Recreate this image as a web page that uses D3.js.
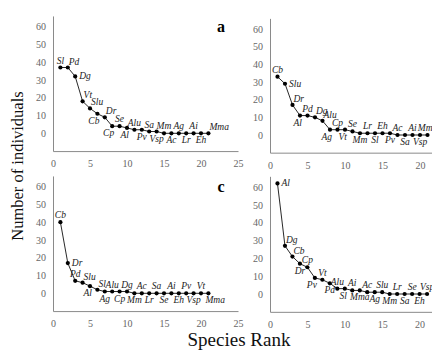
<!DOCTYPE html>
<html>
<head>
<meta charset="utf-8">
<script src="https://cdn.jsdelivr.net/npm/d3@7"></script>
<style>
  body { margin: 0; background: #fff; }
  svg text { font-family: "Liberation Serif", "Times New Roman", serif; }
</style>
</head>
<body>
<svg id="chart" width="432" height="358"></svg>
<script>
const width = 432;
const height = 358;

const ranks = d3.range(1, 22);
const xTicks = [0, 5, 10, 15, 20, 25];
const yTicks = [0, 10, 20, 30, 40, 50, 60];

// panel a
const valuesA = [37, 37, 32, 18, 14, 11, 9, 4, 4, 3, 2, 2, 1, 1, 0, 0, 0, 0, 0, 0, 0];
const speciesA = ["Sl", "Pd", "Dg", "Vt", "Slu", "Cb", "Dr", "Cp", "Se", "Al", "Alu", "Pv", "Sa", "Vsp", "Mm", "Ac", "Ag", "Lr", "Ai", "Eh", "Mma"];
// panel b
const valuesB = [33, 29, 17, 11, 11, 10, 8, 3, 3, 3, 2, 1, 1, 1, 1, 1, 0, 0, 0, 0, 0];
const speciesB = ["Cb", "Slu", "Dr", "Al", "Pd", "Dg", "Alu", "Ag", "Cp", "Vt", "Se", "Mm", "Lr", "Sl", "Eh", "Pv", "Ac", "Sa", "Ai", "Vsp", "Mma"];
// panel c
const valuesC = [40, 17, 7, 6, 4, 2, 1, 1, 1, 1, 0, 0, 0, 0, 0, 0, 0, 0, 0, 0, 0];
const speciesC = ["Cb", "Dr", "Pd", "Slu", "Al", "Sl", "Ag", "Alu", "Cp", "Dg", "Mm", "Ac", "Lr", "Sa", "Se", "Ai", "Eh", "Pv", "Vsp", "Vt", "Mma"];
// panel d
const valuesD = [62, 27, 21, 17, 15, 9, 8, 6, 3, 3, 2, 2, 1, 1, 1, 0, 0, 0, 0, 0, 0];
const speciesD = ["Al", "Dg", "Cb", "Dr", "Cp", "Pv", "Vt", "Pd", "Alu", "Sl", "Ai", "Mma", "Ac", "Ag", "Slu", "Mm", "Lr", "Sa", "Se", "Eh", "Vsp"];

// where each species label sits relative to its dot (alternating above / below along the tail)
const tail = d3.range(20).map(i => i % 2 ? "b" : "t");
const placeA = ["t", "tr", "r", "tr", "tr", "bl", "tr", "bl", "t", "bl"].concat(tail.slice(0, 10), ["tr"]);
const placeB = ["t", "r", "tr", "bl", "t", "tr", "tr", "bl", "t", "bl"].concat(tail.slice(0, 11));
const placeC = ["t", "r", "t", "tr", "bl", "tr", "b"].concat(tail.slice(0, 13), ["br"]);
const placeD = ["r", "tr", "tr", "b", "t", "bl", "t", "b", "t", "bl"].concat(tail.slice(0, 11));

const panels = [
  { letter: "a", values: valuesA, species: speciesA, place: placeA, x0: 53, x25: 238, yZero: 133.3, unit: 1.778 },
  { letter: "b", values: valuesB, species: speciesB, place: placeB, x0: 270, x25: 457.5, yZero: 135, unit: 1.767, hideLetter: true },
  { letter: "c", values: valuesC, species: speciesC, place: placeC, x0: 53, x25: 238, yZero: 293.3, unit: 1.778 },
  { letter: "d", values: valuesD, species: speciesD, place: placeD, x0: 270, x25: 457, yZero: 294, unit: 1.783, hideLetter: true }
];

const svg = d3.select("#chart");

panels.forEach(drawPanel);

function drawPanel(p) {
  const x = d3.scaleLinear().domain([0, 25]).range([p.x0, p.x25]);
  const y = d3.scaleLinear().domain([-10, 66]).range([p.yZero + 10 * p.unit, p.yZero - 66 * p.unit]);

  const g = svg.append("g");

  const yAxis = d3.axisLeft(y).tickValues(yTicks).tickSize(0).tickPadding(7);
  g.append("g")
    .attr("transform", `translate(${x(0)},0)`)
    .call(yAxis)
    .call(a => a.select(".domain").attr("stroke", "#8a8a8a"))
    .call(a => a.selectAll("text").attr("fill", "#666").attr("font-size", 10));

  const xAxis = d3.axisBottom(x).tickValues(xTicks).tickSize(0).tickPadding(9);
  g.append("g")
    .attr("transform", `translate(0,${y(-10)})`)
    .call(xAxis)
    .call(a => a.select(".domain").attr("stroke", "#8a8a8a"))
    .call(a => a.selectAll("text").attr("fill", "#666").attr("font-size", 10));

  const pts = ranks.map((r, i) => ({ r, v: p.values[i], name: p.species[i], place: p.place[i] }));

  g.append("path")
    .datum(pts)
    .attr("fill", "none")
    .attr("stroke", "#111")
    .attr("stroke-width", 0.9)
    .attr("d", d3.line().x(d => x(d.r)).y(d => y(d.v)));

  g.selectAll("circle")
    .data(pts)
    .join("circle")
    .attr("cx", d => x(d.r))
    .attr("cy", d => y(d.v))
    .attr("r", 2.1)
    .attr("fill", "#000");

  const off = {
    t: [0, -4, "middle"],
    b: [0, 10, "middle"],
    r: [4, 3, "start"],
    tr: [1, -3, "start"],
    bl: [2, 10, "end"],
    br: [-3, 10, "start"]
  };

  g.selectAll("text.sp")
    .data(pts)
    .join("text")
    .attr("class", "sp")
    .attr("x", d => x(d.r) + off[d.place][0])
    .attr("y", d => y(d.v) + off[d.place][1])
    .attr("text-anchor", d => off[d.place][2])
    .attr("font-size", 9.5)
    .attr("font-style", "italic")
    .attr("fill", "#222")
    .text(d => d.name);

  if (!p.hideLetter) {
    g.append("text")
      .attr("x", x(22.7))
      .attr("y", y(57))
      .attr("text-anchor", "middle")
      .attr("font-size", 16)
      .attr("font-weight", "bold")
      .text(p.letter);
  }
}

svg.append("text")
  .attr("transform", "translate(23,166) rotate(-90)")
  .attr("text-anchor", "middle")
  .attr("font-size", 16.5)
  .attr("fill", "#111")
  .text("Number of individuals");

svg.append("text")
  .attr("x", 239)
  .attr("y", 346)
  .attr("text-anchor", "middle")
  .attr("font-size", 19)
  .attr("fill", "#111")
  .text("Species Rank");
</script>
</body>
</html>
